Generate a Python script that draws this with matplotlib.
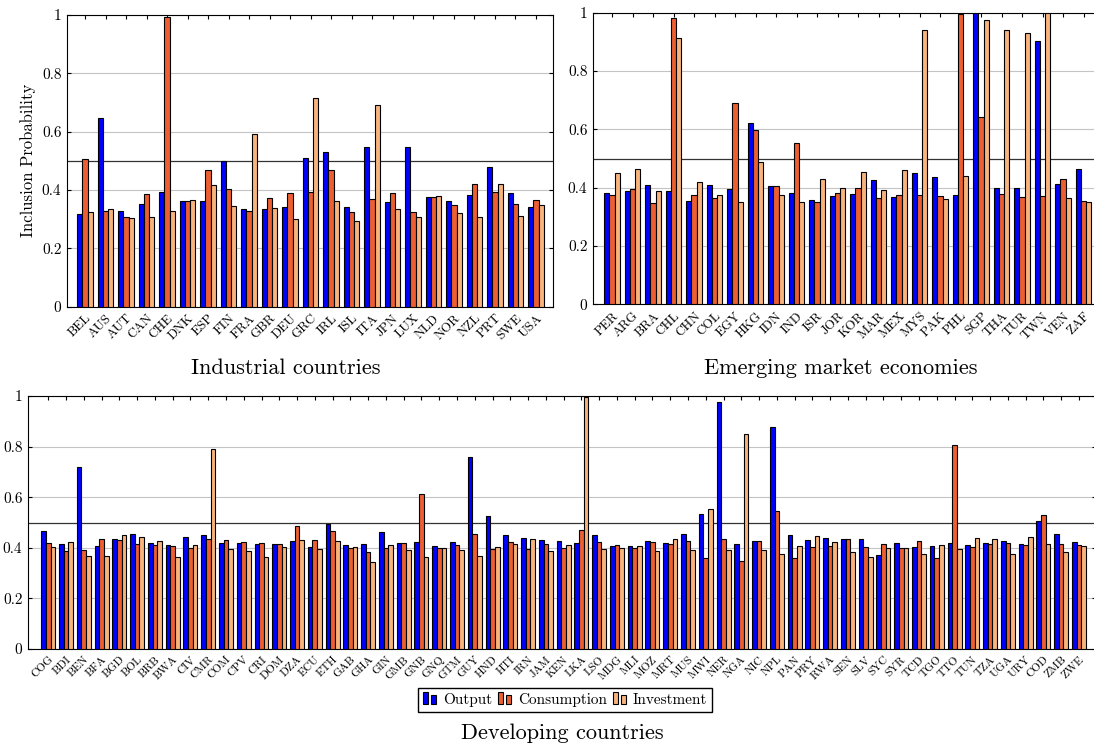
import matplotlib
matplotlib.use("Agg")
import matplotlib.pyplot as plt
from matplotlib.patches import Rectangle
from matplotlib.legend_handler import HandlerBase
import numpy as np

plt.rcParams['font.family'] = ['cmr10', 'DejaVu Serif']
plt.rcParams['axes.formatter.use_mathtext'] = True
plt.rcParams['mathtext.fontset'] = 'cm'

BLUE = '#0000FF'
RED = '#EC5F32'
TAN = '#F8B47C'

# Industrial countries
ind_names = ['BEL', 'AUS', 'AUT', 'CAN', 'CHE', 'DNK', 'ESP', 'FIN', 'FRA', 'GBR', 'DEU', 'GRC',
             'IRL', 'ISL', 'ITA', 'JPN', 'LUX', 'NLD', 'NOR', 'NZL', 'PRT', 'SWE', 'USA']
ind_output = [0.317, 0.646, 0.329, 0.351, 0.392, 0.362, 0.361, 0.499, 0.334, 0.334, 0.342, 0.509,
              0.529, 0.341, 0.549, 0.358, 0.549, 0.377, 0.363, 0.383, 0.479, 0.390, 0.341]
ind_cons = [0.505, 0.328, 0.309, 0.386, 0.992, 0.362, 0.467, 0.403, 0.328, 0.371, 0.391, 0.392,
            0.467, 0.323, 0.368, 0.389, 0.323, 0.376, 0.347, 0.421, 0.393, 0.352, 0.365]
ind_inv = [0.323, 0.336, 0.305, 0.309, 0.327, 0.367, 0.417, 0.345, 0.591, 0.338, 0.302, 0.714,
           0.361, 0.293, 0.691, 0.336, 0.306, 0.379, 0.322, 0.309, 0.421, 0.311, 0.347]

# Emerging market economies
em_names = ['PER', 'ARG', 'BRA', 'CHL', 'CHN', 'COL', 'EGY', 'HKG', 'IDN', 'IND', 'ISR', 'JOR',
            'KOR', 'MAR', 'MEX', 'MYS', 'PAK', 'PHL', 'SGP', 'THA', 'TUR', 'TWN', 'VEN', 'ZAF']
em_output = [0.383, 0.389, 0.410, 0.389, 0.354, 0.408, 0.395, 0.621, 0.407, 0.381, 0.358, 0.371,
             0.378, 0.425, 0.368, 0.449, 0.437, 0.375, 1.000, 0.398, 0.398, 0.903, 0.414, 0.464]
em_cons = [0.374, 0.394, 0.347, 0.981, 0.375, 0.366, 0.691, 0.597, 0.406, 0.552, 0.350, 0.382,
           0.398, 0.363, 0.375, 0.374, 0.370, 0.995, 0.641, 0.377, 0.369, 0.370, 0.431, 0.354]
em_inv = [0.450, 0.464, 0.389, 0.913, 0.418, 0.374, 0.352, 0.487, 0.374, 0.351, 0.429, 0.398,
          0.453, 0.391, 0.462, 0.941, 0.360, 0.439, 0.975, 0.941, 0.930, 0.998, 0.363, 0.351]

# Developing countries
dev_names = ['COG', 'BDI', 'BEN', 'BFA', 'BGD', 'BOL', 'BRB', 'BWA', 'CIV', 'CMR', 'COM', 'CPV',
             'CRI', 'DOM', 'DZA', 'ECU', 'ETH', 'GAB', 'GHA', 'GIN', 'GMB', 'GNB', 'GNQ', 'GTM',
             'GUY', 'HND', 'HTI', 'IRN', 'JAM', 'KEN', 'LKA', 'LSO', 'MDG', 'MLI', 'MOZ', 'MRT',
             'MUS', 'MWI', 'NER', 'NGA', 'NIC', 'NPL', 'PAN', 'PRY', 'RWA', 'SEN', 'SLV', 'SYC',
             'SYR', 'TCD', 'TGO', 'TTO', 'TUN', 'TZA', 'UGA', 'URY', 'COD', 'ZMB', 'ZWE']
dev_output = [0.465, 0.414, 0.718, 0.408, 0.433, 0.453, 0.420, 0.411, 0.441, 0.452, 0.418, 0.418,
              0.414, 0.414, 0.428, 0.402, 0.495, 0.410, 0.415, 0.464, 0.418, 0.422, 0.408, 0.422,
              0.758, 0.527, 0.449, 0.440, 0.431, 0.428, 0.418, 0.449, 0.408, 0.407, 0.428, 0.419,
              0.453, 0.534, 0.975, 0.414, 0.428, 0.877, 0.449, 0.430, 0.439, 0.436, 0.436, 0.373,
              0.419, 0.402, 0.406, 0.420, 0.410, 0.418, 0.427, 0.414, 0.505, 0.453, 0.422]
dev_cons = [0.419, 0.389, 0.391, 0.433, 0.430, 0.414, 0.410, 0.406, 0.399, 0.436, 0.431, 0.424,
            0.418, 0.414, 0.487, 0.431, 0.465, 0.398, 0.382, 0.401, 0.418, 0.611, 0.399, 0.410,
            0.455, 0.395, 0.422, 0.394, 0.415, 0.399, 0.470, 0.423, 0.410, 0.399, 0.424, 0.415,
            0.428, 0.361, 0.433, 0.348, 0.426, 0.544, 0.358, 0.403, 0.407, 0.436, 0.403, 0.414,
            0.401, 0.428, 0.358, 0.805, 0.403, 0.414, 0.418, 0.411, 0.528, 0.415, 0.412]
dev_inv = [0.404, 0.422, 0.366, 0.368, 0.452, 0.441, 0.426, 0.362, 0.412, 0.789, 0.395, 0.386,
           0.362, 0.403, 0.432, 0.394, 0.426, 0.404, 0.344, 0.410, 0.390, 0.362, 0.401, 0.393,
           0.368, 0.403, 0.416, 0.433, 0.386, 0.412, 0.995, 0.394, 0.398, 0.407, 0.387, 0.433,
           0.393, 0.552, 0.393, 0.850, 0.393, 0.375, 0.408, 0.445, 0.422, 0.383, 0.365, 0.398,
           0.398, 0.377, 0.410, 0.395, 0.440, 0.433, 0.374, 0.441, 0.415, 0.382, 0.408]

series_labels = ['Output', 'Consumption', 'Investment']
colors = [BLUE, RED, TAN]


def bar_panel(ax, names, output, cons, inv, width, xlim, tick_fs, title, ylabel=None):
    x = np.arange(len(names))
    for k, (vals, col) in enumerate(zip([output, cons, inv], colors)):
        ax.bar(x + (k - 1) * width, vals, width, color=col, edgecolor='black',
               linewidth=0.8, zorder=3, label=series_labels[k])
    ax.set_xlim(*xlim)
    ax.set_ylim(0, 1)
    ax.set_yticks([0, 0.2, 0.4, 0.6, 0.8, 1])
    ax.set_yticklabels(['0', '0.2', '0.4', '0.6', '0.8', '1'], fontsize=11)
    ax.yaxis.grid(True, color='#C4C4C4', linewidth=0.8, zorder=0)
    ax.axhline(0.5, color='#333333', linewidth=0.9, zorder=1)
    ax.set_xticks(x)
    ax.set_xticklabels(names, rotation=45, ha='right', va='top',
                       rotation_mode='anchor', fontsize=tick_fs)
    ax.tick_params(axis='x', direction='in', length=3, top=True, pad=4)
    ax.tick_params(axis='y', direction='in', length=3, right=True, pad=4)
    for sp in ax.spines.values():
        sp.set_linewidth(0.8)
    if ylabel:
        ax.set_ylabel(ylabel, fontsize=12)
    ax.set_xlabel(title, fontsize=16, labelpad=12)
    ax.set_axisbelow(True)


class TwoBarHandler(HandlerBase):
    # pgfplots-style legend swatch: two thin bars side by side
    def create_artists(self, legend, orig_handle, xdescent, ydescent, width, height, fontsize, trans):
        col = orig_handle.get_facecolor()
        bw = width * 0.32
        r1 = Rectangle((-xdescent, -ydescent), bw, height * 1.1, facecolor=col,
                       edgecolor='black', linewidth=0.8, transform=trans)
        r2 = Rectangle((-xdescent + bw * 1.6, -ydescent), bw, height * 0.85, facecolor=col,
                       edgecolor='black', linewidth=0.8, transform=trans)
        return [r1, r2]


W, H = 1094, 746
fig = plt.figure(figsize=(W / 100, H / 100), dpi=100)

ax1 = fig.add_axes([67 / W, 1 - 306.7 / H, 486 / W, 291.7 / H])
bar_panel(ax1, ind_names, ind_output, ind_cons, ind_inv, 0.252, (-0.88, 22.83), 9.5,
          'Industrial countries', ylabel='Inclusion Probability')
ax1.xaxis.label.set_x(0.451)

ax2 = fig.add_axes([593 / W, 1 - 304.3 / H, 509 / W, 291.6 / H])
bar_panel(ax2, em_names, em_output, em_cons, em_inv, 0.252, (-0.93, 23.9), 9.5,
          'Emerging market economies')
ax2.xaxis.label.set_x(0.487)

ax3 = fig.add_axes([28 / W, 1 - 649 / H, 1068 / W, 253 / H])
bar_panel(ax3, dev_names, dev_output, dev_cons, dev_inv, 0.262, (-1.14, 58.96), 8.3,
          'Developing countries')
ax3.xaxis.labelpad = 30

handles = [Rectangle((0, 0), 1, 1, facecolor=c) for c in colors]
fig.legend(handles, series_labels, loc='center', bbox_to_anchor=(565 / W, 1 - 700 / H),
           ncol=3, fontsize=11, frameon=True, fancybox=False, edgecolor='black',
           handler_map={Rectangle: TwoBarHandler()}, handlelength=1.0, handletextpad=0.3,
           columnspacing=0.4, borderpad=0.3, framealpha=1)

fig.savefig('out.png', dpi=100)
